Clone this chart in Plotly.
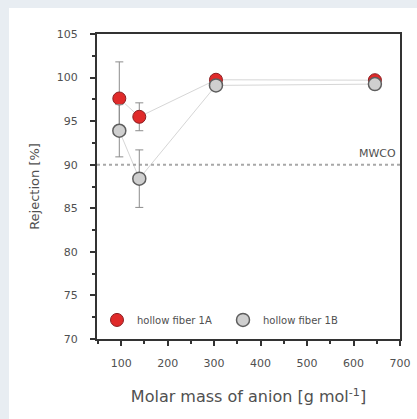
import plotly.graph_objects as go

# Data
molar_mass = [96, 139, 304, 646]
rej_1A = [97.6, 95.5, 99.75, 99.7]
err_1A = [4.2, 1.6, 0.3, 0.3]
rej_1B = [93.9, 88.4, 99.1, 99.25]
err_1B = [3.0, 3.3, 0.3, 0.3]
mwco = 90
x_ticks = [100, 200, 300, 400, 500, 600, 700]
y_ticks = [70, 75, 80, 85, 90, 95, 100, 105]

FONT = "DejaVu Sans"
TXT = "#505050"

fig = go.Figure()

# connecting lines (drawn under markers)
fig.add_trace(go.Scatter(x=molar_mass, y=rej_1A, mode="lines",
                         line=dict(color="#d6d6d6", width=1),
                         showlegend=False, hoverinfo="skip"))
fig.add_trace(go.Scatter(x=molar_mass, y=rej_1B, mode="lines",
                         line=dict(color="#d6d6d6", width=1),
                         showlegend=False, hoverinfo="skip"))

# MWCO line
fig.add_trace(go.Scatter(x=[48, 700], y=[mwco, mwco], mode="lines",
                         line=dict(color="#a8a8a8", width=2, dash="dot"),
                         showlegend=False, hoverinfo="skip"))

fig.add_trace(go.Scatter(
    x=molar_mass, y=rej_1A, mode="markers", name="hollow fiber 1A",
    marker=dict(size=13, color="#e02a2a", line=dict(color="#8a1f22", width=1)),
    error_y=dict(type="data", array=err_1A, color="#8c8c8c", thickness=1, width=4),
))
fig.add_trace(go.Scatter(
    x=molar_mass, y=rej_1B, mode="markers", name="hollow fiber 1B",
    marker=dict(size=13, color="#cfcfcf", line=dict(color="#5e5e5e", width=1.5)),
    error_y=dict(type="data", array=err_1B, color="#8c8c8c", thickness=1, width=4),
))

fig.add_annotation(x=700, y=mwco, xref="x", yref="y", text="MWCO",
                   showarrow=False, xanchor="right", yanchor="bottom",
                   xshift=-2, yshift=3, font=dict(family=FONT, size=11, color=TXT))

# white card on light page background
L, R, T, B = 97, 17, 34, 80
W, H = 417, 419
pw, ph = W - L - R, H - T - B
fig.add_shape(type="rect", xref="paper", yref="paper", layer="below",
              x0=(9 - L) / pw, x1=(W - L) / pw + 0.05,
              y0=-(B) / ph - 0.05, y1=(H - B - 8) / ph,
              fillcolor="white", line=dict(width=0))

axis_common = dict(showline=True, linecolor="#333333", linewidth=2, mirror=True,
                   showgrid=False, zeroline=False, ticks="outside", ticklen=5,
                   tickwidth=1.5, tickcolor="#333333",
                   tickfont=dict(family=FONT, size=11, color=TXT))

fig.update_xaxes(range=[48, 700], tickvals=x_ticks, ticklabelstandoff=8,
                 minor=dict(dtick=50, tick0=0, ticks="outside", ticklen=3, tickcolor="#333333"),
                 title=dict(text="Molar mass of anion [g mol<sup>-1</sup>]",
                            font=dict(family=FONT, size=16, color=TXT), standoff=22),
                 **axis_common)
fig.update_yaxes(range=[70, 105], tickvals=y_ticks, ticklabelstandoff=10,
                 minor=dict(dtick=2.5, tick0=0, ticks="outside", ticklen=3, tickcolor="#333333"),
                 title=dict(text="Rejection [%]",
                            font=dict(family=FONT, size=13, color=TXT), standoff=14),
                 **axis_common)

fig.update_layout(
    width=W, height=H,
    margin=dict(l=L, r=R, t=T, b=B, autoexpand=False),
    paper_bgcolor="#e8edf2", plot_bgcolor="white",
    legend=dict(orientation="h", x=0.0, y=0.015, xanchor="left", yanchor="bottom",
                bgcolor="rgba(0,0,0,0)", font=dict(family=FONT, size=10, color=TXT),
                itemwidth=30, entrywidth=81, tracegroupgap=0),
)

fig.write_html("out.html", config={"displayModeBar": False},
               post_script="document.body.style.margin='0';"
                           "document.body.style.overflow='hidden';")
